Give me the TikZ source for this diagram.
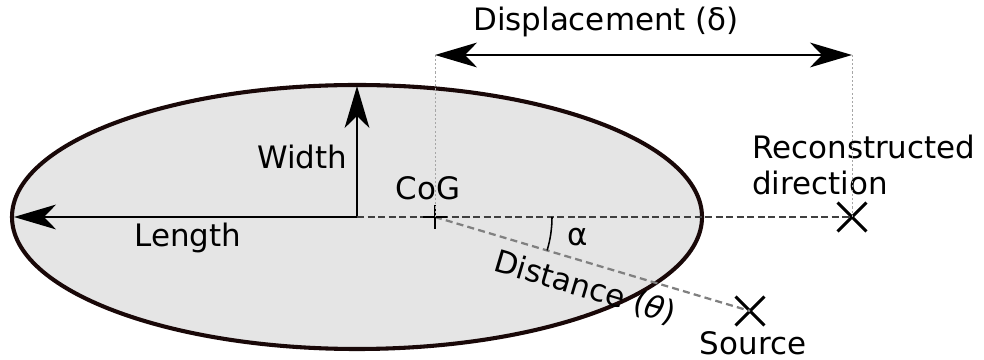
\documentclass[tikz,border=0pt]{standalone}
\usepackage{fontspec}
\setmainfont{DejaVu Sans}
\usetikzlibrary{arrows.meta, shapes.misc}
\definecolor{edgecolor}{rgb}{0.1, 0.03, 0.03}
\definecolor{fillcolor}{rgb}{0.9, 0.9, 0.9}
\tikzset{>={Stealth[length=1.05cm, width=0.62cm, inset=0.3cm]}}
\tikzset{lbl/.style={font=\fontsize{22}{26}\selectfont, inner sep=0pt}}
\tikzset{xmark/.style={cross out, draw, line width=2.1pt, minimum size=0.65cm, inner sep=0pt}}
\tikzset{bigarrow/.style={line width=1.4pt, ->}}
\tikzset{guide/.style={draw=gray!70, line width=0.7pt, dash pattern=on 1.5pt off 1.5pt}}

\begin{document}
\begin{tikzpicture}[x=0.025cm, y=0.025cm]
	\useasboundingbox (0,0) rectangle (984,360);
	
	%%% NODES %%%
	
	% ELLIPSE
	\draw[draw=edgecolor, line width=2.9pt, fill=fillcolor] (357,143) ellipse [x radius=345, y radius=132];
	\coordinate (ctr) at (357,143);
	\coordinate (lenend) at (14,143);
	\coordinate (widend) at (357,274);
	\node[lbl] at (302,203) (width) {Width};
	\node[lbl] at (188,122) (length) {Length};
	
	% COG
	\coordinate (cog) at (435,143);
	\node[lbl] at (428,172) (coglabel) {CoG};
	
	% RECONSTRUCTED DIRECTION
	\node[xmark] at (852,143) (recdir) {};
	\node[lbl, anchor=west, align=left] at (752,195) (reclabel) {Reconstructed\\direction};
	
	% SOURCE
	\node[xmark] at (750,49) (source) {};
	\node[lbl] at (753,17) (sourcelabel) {Source};
	
	% DISPLACEMENT
	\coordinate (dleft) at (435,305);
	\coordinate (dright) at (852,305);
	\node[lbl] at (606,338) (displabel) {Displacement (δ)};
	
	% ANGLE
	\node[lbl] at (578,123) (alpha) {α};
	\node[lbl, rotate=-16.6] at (585,72) (distlabel) {Distance (\textit{θ})};
	
	
	%%% ARROWS %%%
	
	% AXES
	\draw[bigarrow] (ctr) -- (lenend);
	\draw[bigarrow] (ctr) -- (widend);
	\draw[draw=black!75, line width=1.4pt, dash pattern=on 5pt off 2.5pt] (ctr) -- (recdir.center);
	\draw[draw=gray, line width=1.6pt, dash pattern=on 5pt off 3pt] (cog) -- (source.center);
	
	% COG MARK
	\draw[line width=2.1pt] ([xshift=-12*0.025cm]cog) -- ([xshift=12*0.025cm]cog);
	\draw[line width=2.1pt] ([yshift=-12*0.025cm]cog) -- ([yshift=12*0.025cm]cog);
	
	% ALPHA ARC
	\draw[line width=1.1pt] (cog) ++(0:117) arc[start angle=0, end angle=-16.6, radius=117];
	
	% DISPLACEMENT
	\draw[guide] (cog) -- (dleft);
	\draw[guide] (recdir.center) -- (dright);
	\draw[line width=1.4pt, <->] (dleft) -- (dright);
	
\end{tikzpicture}
\end{document}
